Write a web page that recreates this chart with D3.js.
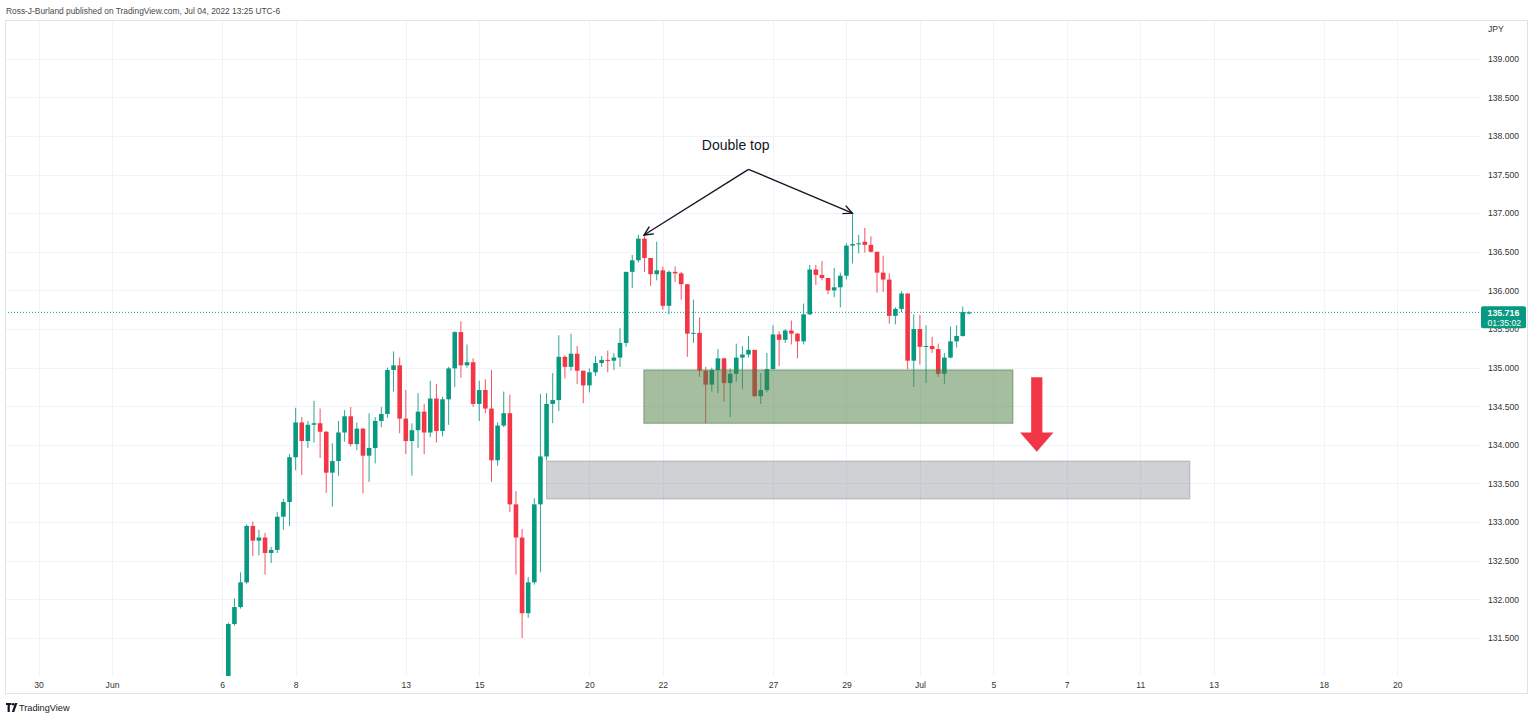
<!DOCTYPE html>
<html><head><meta charset="utf-8">
<script src="https://cdn.jsdelivr.net/npm/d3@7"></script>
<style>
html,body{margin:0;padding:0;background:#fff;}
svg{display:block;font-family:"Liberation Sans",Arial,sans-serif;}
</style></head>
<body>
<svg id="c" width="1536" height="720"></svg>
<script>
// ---- data (4h candles, bar index 0 = first bar of Jun 6) ----
const barIndex = d3.range(1, 123);
const open  = [130.95,131.68,131.90,132.22,132.95,132.76,132.80,132.60,132.64,133.07,133.26,133.84,134.29,134.05,134.26,134.28,134.17,133.64,133.79,134.16,134.37,134.01,134.21,133.86,133.96,134.31,134.40,134.97,135.03,134.34,134.05,134.19,134.43,134.16,134.60,134.18,134.59,134.99,135.46,135.03,135.07,134.53,134.71,134.47,133.80,134.25,134.41,133.23,132.80,131.82,132.22,133.23,133.85,134.53,134.58,135.14,135.01,135.18,134.96,134.77,134.94,135.06,135.10,135.09,135.13,135.32,136.24,136.39,136.67,136.42,136.21,136.26,135.80,136.24,136.22,136.08,135.44,135.45,134.96,134.78,134.97,135.12,134.80,134.92,135.13,135.17,135.23,134.63,134.71,134.98,135.43,135.36,135.48,135.44,135.34,135.69,136.27,136.20,136.16,136.00,136.04,136.19,136.58,136.60,136.63,136.59,136.50,136.23,136.14,135.67,135.76,135.96,135.09,135.50,135.27,135.28,135.24,134.92,135.13,135.34,135.41,135.70];
const high  = [131.70,132.01,132.35,132.97,133.01,132.90,132.86,132.68,133.13,133.30,133.88,134.48,134.36,134.31,134.57,134.47,134.18,134.02,134.31,134.45,134.49,134.29,134.22,134.41,134.36,134.49,135.00,135.21,135.13,134.71,134.28,134.67,134.53,134.83,134.79,134.62,135.01,135.47,135.60,135.30,135.12,134.83,134.85,134.97,134.29,134.69,134.65,133.40,132.91,132.29,133.31,134.66,134.67,134.93,135.42,135.16,135.44,135.28,134.96,134.99,135.15,135.15,135.22,135.19,135.51,136.24,136.46,136.72,136.72,136.42,136.63,136.31,136.26,136.31,136.24,136.08,135.88,135.65,135.01,135.00,135.24,135.13,134.99,135.31,135.28,135.41,135.23,134.93,135.19,135.55,135.47,135.50,135.61,135.45,135.83,136.33,136.33,136.38,136.16,136.29,136.23,136.61,137.00,136.72,136.81,136.70,136.50,136.45,136.22,135.78,135.99,135.96,135.69,135.68,135.55,135.40,135.31,135.19,135.53,135.55,135.79,135.73];
const low   = [130.90,131.66,131.88,132.20,132.56,132.57,132.32,132.47,132.60,132.90,132.95,133.67,133.61,133.96,134.03,133.83,133.38,133.20,133.60,134.04,133.98,133.93,133.37,133.52,133.76,134.23,134.35,134.69,134.15,133.88,133.60,133.96,133.88,134.10,134.03,134.11,134.26,134.75,134.87,135.00,134.49,134.31,134.41,133.52,133.73,134.23,133.13,132.32,131.50,131.76,132.19,132.35,133.80,134.28,134.44,134.86,134.96,134.79,134.54,134.68,134.89,135.01,134.94,134.97,135.01,135.27,136.03,136.36,136.24,136.06,136.13,135.75,135.69,136.11,135.88,135.14,135.32,134.88,134.28,134.69,134.67,134.56,134.36,134.82,134.72,135.13,134.62,134.53,134.68,134.98,135.02,135.32,135.30,135.12,135.30,135.68,136.07,136.13,135.95,135.91,135.78,136.14,136.35,136.48,136.49,136.49,135.97,135.98,135.57,135.56,135.72,134.98,134.75,135.04,134.80,135.19,134.88,134.79,135.12,135.26,135.40,135.69];
const close = [131.68,131.90,132.22,132.95,132.76,132.80,132.60,132.64,133.07,133.26,133.84,134.29,134.05,134.26,134.28,134.17,133.64,133.79,134.16,134.37,134.01,134.21,133.86,133.96,134.31,134.40,134.97,135.03,134.34,134.05,134.19,134.43,134.16,134.60,134.18,134.59,134.99,135.46,135.03,135.07,134.53,134.71,134.47,133.80,134.25,134.41,133.23,132.80,131.82,132.22,133.23,133.85,134.53,134.58,135.14,135.01,135.18,134.96,134.77,134.94,135.06,135.10,135.09,135.13,135.32,136.24,136.39,136.67,136.42,136.21,136.26,135.80,136.24,136.22,136.08,135.44,135.45,134.96,134.78,134.97,135.12,134.80,134.92,135.13,135.17,135.23,134.63,134.71,134.98,135.43,135.36,135.48,135.44,135.34,135.69,136.27,136.20,136.16,136.00,136.04,136.19,136.58,136.60,136.61,136.59,136.50,136.23,136.14,135.67,135.76,135.96,135.09,135.50,135.27,135.28,135.24,134.92,135.13,135.34,135.41,135.72,135.716];

const timeTickIndex  = [-30,-18,0,12,30,42,60,72,90,102,114,126,138,150,162,180,192];
const timeTickLabels = ["30","Jun","6","8","13","15","20","22","27","29","Jul","5","7","11","13","18","20"];
const priceTicks = [131.5,132,132.5,133,133.5,134,134.5,135,135.5,136,136.5,137,137.5,138,138.5,139];
const lastPrice = 135.716;
const countdown = "01:35:02";

// zones (drawn rectangles)
const zoneStart  = [68.9, 53.0];
const zoneEnd    = [129.2, 158.1];
const zoneTop    = [134.97, 133.79];
const zoneBottom = [134.28, 133.30];
const zoneFill   = ["rgba(75,125,65,0.5)", "rgba(120,123,134,0.35)"];
const zoneStroke = ["rgba(75,125,65,0.62)", "rgba(120,123,134,0.45)"];

// annotation: "Double top" apex and the two tops
const apex = {i: 86.0, p: 137.568};
const tops = [{i: 68.92, p: 136.717}, {i: 102.96, p: 137.0}];
const annotText = "Double top";
const annotPos = {i: 83.9, p: 137.82};
// down arrow
const arrowDown = {i: 133.1, top: 134.875, headBase: 134.16, tip: 133.91};

// ---- layout ----
const L = 5, R = 1480, T = 21, B = 676, frameR = 1528, frameB = 694;
const x = d3.scaleLinear().domain([0, 100]).range([222.2, 834.2]);
const y = d3.scaleLinear().domain([131.5, 139]).range([637.95, 58.7]);

const UP = "#089981", DOWN = "#f23645";
const svg = d3.select("#c");

// header
svg.append("text").attr("x", 6).attr("y", 14).attr("font-size", 8.4).attr("fill", "#4a4a4a")
  .text("Ross-J-Burland published on TradingView.com, Jul 04, 2022 13:25 UTC-6");

// frame
svg.append("rect").attr("x", L + 0.5).attr("y", T - 0.5).attr("width", frameR - L - 1).attr("height", frameB - T)
  .attr("fill", "#fff").attr("stroke", "#e0e3eb");

svg.append("clipPath").attr("id", "plot").append("rect")
  .attr("x", L + 1).attr("y", T).attr("width", R - L - 1).attr("height", B - T);

// grid
const grid = svg.append("g").attr("clip-path", "url(#plot)");
grid.selectAll("line.h").data(priceTicks).join("line")
  .attr("x1", L).attr("x2", R).attr("y1", d => Math.round(y(d)) + 0.5).attr("y2", d => Math.round(y(d)) + 0.5)
  .attr("stroke", "#f0f3fa");
grid.selectAll("line.v").data(timeTickIndex).join("line")
  .attr("x1", d => Math.round(x(d)) + 0.5).attr("x2", d => Math.round(x(d)) + 0.5).attr("y1", T).attr("y2", B)
  .attr("stroke", "#f0f3fa");

// candles
const plot = svg.append("g").attr("clip-path", "url(#plot)");
const candles = barIndex.map((b, k) => ({b, o: open[k], h: high[k], l: low[k], c: close[k]}));
const col = d => d.c >= d.o ? UP : DOWN;
plot.selectAll("line.w").data(candles).join("line")
  .attr("x1", d => x(d.b)).attr("x2", d => x(d.b))
  .attr("y1", d => y(d.h)).attr("y2", d => y(d.l))
  .attr("stroke", col).attr("stroke-width", 1).attr("stroke-opacity", 0.85);
const bw = 4.6;
plot.selectAll("rect.b").data(candles).join("rect")
  .attr("x", d => x(d.b) - bw / 2).attr("width", bw)
  .attr("y", d => y(Math.max(d.o, d.c)))
  .attr("height", d => Math.max(1, Math.abs(y(d.o) - y(d.c))))
  .attr("fill", col);

// last price dotted line
plot.append("line").attr("x1", L).attr("x2", R)
  .attr("y1", y(lastPrice)).attr("y2", y(lastPrice))
  .attr("stroke", UP).attr("stroke-dasharray", "1,2").attr("stroke-width", 1);

// zones
const zones = zoneStart.map((s, k) => ({s, e: zoneEnd[k], t: zoneTop[k], b: zoneBottom[k], f: zoneFill[k], st: zoneStroke[k]}));
plot.selectAll("rect.z").data(zones).join("rect")
  .attr("x", d => x(d.s)).attr("width", d => x(d.e) - x(d.s))
  .attr("y", d => y(d.t)).attr("height", d => y(d.b) - y(d.t))
  .attr("fill", d => d.f).attr("stroke", d => d.st).attr("stroke-width", 1);

// down arrow
const ax = x(arrowDown.i), shaftHalf = 5.6, headHalf = 16.7;
plot.append("path")
  .attr("d", `M${ax - shaftHalf},${y(arrowDown.top)} L${ax + shaftHalf},${y(arrowDown.top)} L${ax + shaftHalf},${y(arrowDown.headBase)} L${ax + headHalf},${y(arrowDown.headBase)} L${ax},${y(arrowDown.tip)} L${ax - headHalf},${y(arrowDown.headBase)} L${ax - shaftHalf},${y(arrowDown.headBase)} Z`)
  .attr("fill", DOWN);

// double top annotation
const ann = plot.append("g").attr("stroke", "#131722").attr("stroke-width", 1.4).attr("fill", "none");
tops.forEach(t => {
  const x0 = x(apex.i), y0 = y(apex.p), x1 = x(t.i), y1 = y(t.p);
  ann.append("line").attr("x1", x0).attr("y1", y0).attr("x2", x1).attr("y2", y1);
  const ang = Math.atan2(y1 - y0, x1 - x0), len = 10, spread = 0.45;
  const p1 = [x1 - len * Math.cos(ang - spread), y1 - len * Math.sin(ang - spread)];
  const p2 = [x1 - len * Math.cos(ang + spread), y1 - len * Math.sin(ang + spread)];
  ann.append("path").attr("d", `M${p1[0]},${p1[1]} L${x1},${y1} L${p2[0]},${p2[1]}`);
});
plot.append("text").attr("x", x(annotPos.i)).attr("y", y(annotPos.p)).attr("text-anchor", "middle")
  .attr("font-size", 14).attr("fill", "#131722").text(annotText);

// time axis
const xAxis = d3.axisBottom(x).tickValues(timeTickIndex)
  .tickFormat((d, i) => timeTickLabels[i]).tickSize(0).tickPadding(6);
const gx = svg.append("g").attr("transform", `translate(0,${B})`).call(xAxis);
gx.select(".domain").remove();
gx.selectAll("text").attr("font-size", 8.6).attr("fill", "#333").attr("font-family", "Liberation Sans, Arial, sans-serif");

// price axis
const yAxis = d3.axisRight(y).tickValues(priceTicks).tickFormat(d3.format(".3f")).tickSize(0).tickPadding(8);
const gy = svg.append("g").attr("transform", `translate(${R},0)`).call(yAxis);
gy.select(".domain").remove();
gy.selectAll("text").attr("font-size", 8.6).attr("fill", "#333").attr("font-family", "Liberation Sans, Arial, sans-serif");
svg.append("text").attr("x", R + 8).attr("y", 32).attr("font-size", 8.6).attr("fill", "#333").text("JPY");

// last price label
const ly = y(lastPrice);
svg.append("rect").attr("x", R + 1).attr("y", ly - 6).attr("width", 45).attr("height", 22).attr("rx", 2).attr("fill", UP);
svg.append("text").attr("x", R + 7.5).attr("y", ly + 3.5).attr("font-size", 8.8).attr("font-weight", "bold")
  .attr("fill", "#fff").text(d3.format(".3f")(lastPrice));
svg.append("text").attr("x", R + 7.5).attr("y", ly + 13.5).attr("font-size", 8.6)
  .attr("fill", "#fff").text(countdown);

// footer logo + text
const logo = svg.append("g").attr("fill", "#131722");
logo.append("path").attr("d", "M6,703 h5.5 v2 h-1.7 v7 h-2.2 v-7 h-1.6 Z");
logo.append("circle").attr("cx", 13.2).attr("cy", 704.3).attr("r", 1.3);
logo.append("path").attr("d", "M15,703 h2.4 l-3.2,9 h-2.4 Z");
svg.append("text").attr("x", 19).attr("y", 711).attr("font-size", 9.2).attr("fill", "#131722").text("TradingView");
</script>
</body></html>
